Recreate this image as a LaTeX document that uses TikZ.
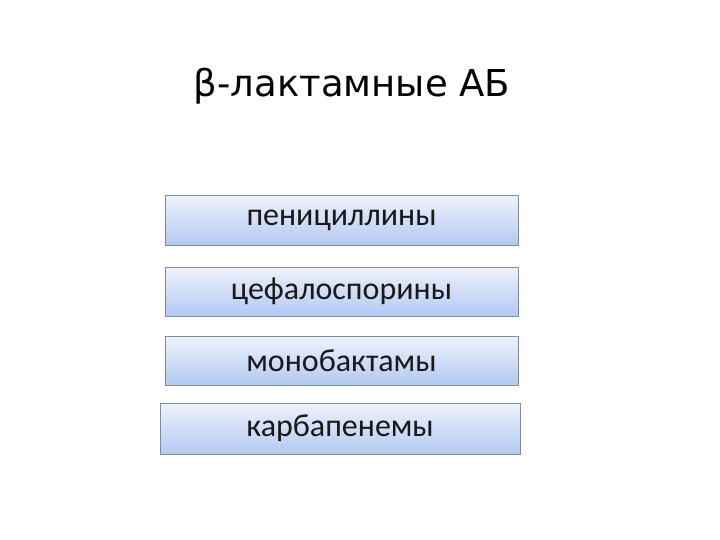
\documentclass[tikz,border=0pt]{standalone}
\usepackage{fontspec}
\setmainfont{Carlito}
\newfontfamily\titlefont{DejaVu Sans}
\usetikzlibrary{positioning}
\definecolor{boxtop}{HTML}{EEF2FB}
\definecolor{boxbot}{HTML}{B3C9F1}
\definecolor{boxline}{HTML}{7D8BA3}
\tikzset{
  group/.style={draw=boxline, line width=1pt, top color=boxtop, bottom color=boxbot,
    minimum width=353pt, minimum height=49pt, font=\fontsize{32}{36}\selectfont, text=black!90},
}

\begin{document}
\begin{tikzpicture}[x=1pt, y=-1pt]
        \useasboundingbox (0,0) rectangle (720,540);
        \node[font=\titlefont\fontsize{37}{42}\selectfont] at (352, 86)(title){β-лактамные АБ};
        \node[group] at (341.5, 220.5)(pen){пенициллины};
        \node[group] at (341.5, 291.5)(ceph){цефалоспорины};
        \node[group] at (341.5, 360.5)(mono){монобактамы};
        \node[group, minimum width=360pt, minimum height=51pt] at (340, 428.5)(carb){карбапенемы};
    \end{tikzpicture}
\end{document}
